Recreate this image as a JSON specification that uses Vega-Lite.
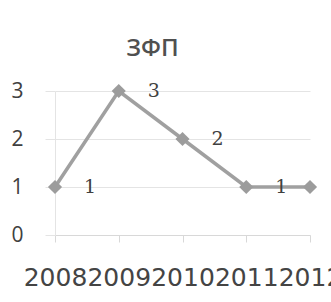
{
  "$schema": "https://vega.github.io/schema/vega-lite/v6.json",
  "autosize": "none",
  "width": 255,
  "height": 144,
  "padding": {"left": 55, "top": 91, "right": 21, "bottom": 67},
  "background": "white",
  "title": {
    "text": "ЗФП",
    "font": "Open Sans",
    "fontSize": 24,
    "fontWeight": 600,
    "color": "#505050",
    "dx": -30,
    "offset": 19
  },
  "data": {
    "values": [
      {"year": "2008", "value": 1},
      {"year": "2009", "value": 3},
      {"year": "2010", "value": 2},
      {"year": "2011", "value": 1},
      {"year": "2012", "value": 1}
    ]
  },
  "config": {
    "view": {"stroke": null},
    "axis": {"labelFont": "Open Sans", "labelColor": "#404040"}
  },
  "encoding": {
    "x": {
      "field": "year",
      "type": "ordinal",
      "scale": {"type": "point", "padding": 0},
      "axis": {
        "title": null,
        "labelAngle": 0,
        "labelFont": "DejaVu Sans",
        "labelFontSize": 25,
        "labelPadding": 23,
        "labelColor": "#444444",
        "grid": false,
        "tickSize": 7,
        "tickColor": "#d8d8d8",
        "domainColor": "#d8d8d8",
        "labelOverlap": false
      }
    },
    "y": {
      "field": "value",
      "type": "quantitative",
      "scale": {"domain": [0, 3]},
      "axis": {
        "title": null,
        "values": [0, 1, 2, 3],
        "labelFontSize": 21,
        "labelPadding": 22,
        "tickSize": 10,
        "tickColor": "#e4e4e4",
        "gridColor": "#e4e4e4",
        "domainColor": "#e4e4e4"
      }
    }
  },
  "layer": [
    {"mark": {"type": "line", "color": "#a0a0a0", "strokeWidth": 3.5}},
    {"mark": {"type": "point", "shape": "diamond", "filled": true, "size": 200, "color": "#9c9c9c", "opacity": 1}},
    {
      "mark": {"type": "text", "dx": 35, "font": "DejaVu Serif", "fontSize": 19, "color": "#404040", "baseline": "middle"},
      "encoding": {"text": {"field": "value", "type": "quantitative"}}
    }
  ]
}
